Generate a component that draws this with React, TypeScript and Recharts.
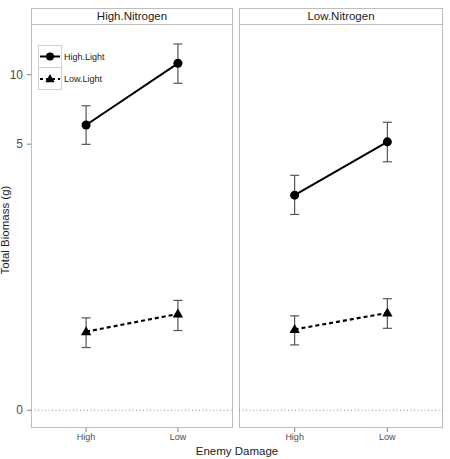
import React from 'react';
import {
  ErrorBar,
  Legend,
  Line,
  LineChart,
  ReferenceLine,
  XAxis,
  YAxis,
} from 'recharts';

// Enemy damage levels on the x axis
const damage = ['High', 'Low'];
const panels = ['High.Nitrogen', 'Low.Nitrogen'];
const lightLevels = ['High.Light', 'Low.Light'];

// Total biomass (g): means with lower / upper interval bounds
const hnHighLight = [6.07, 11.18];
const hnHighLightLo = [4.99, 9.19];
const hnHighLightHi = [7.36, 13.49];
const hnLowLight = [0.49, 0.66];
const hnLowLightLo = [0.36, 0.5];
const hnLowLightHi = [0.62, 0.81];

const lnHighLight = [2.93, 5.12];
const lnHighLightLo = [2.37, 4.17];
const lnHighLightHi = [3.62, 6.24];
const lnLowLight = [0.51, 0.67];
const lnLowLightLo = [0.38, 0.52];
const lnLowLightHi = [0.64, 0.83];

const yTicks = [0, 5, 10];

// biomass axis is drawn on a shifted log scale
const OFFSET = 0.45;
const tf = (v: number) => Math.log(v + OFFSET);
const untf = (v: number) => Math.exp(v) - OFFSET;
const yDomain = [-0.965, 2.8126];

const buildRows = (
  hl: number[], hlLo: number[], hlHi: number[],
  ll: number[], llLo: number[], llHi: number[],
) =>
  damage.map((_, i) => ({
    x: i + 1,
    hl: tf(hl[i]),
    hlErr: [tf(hl[i]) - tf(hlLo[i]), tf(hlHi[i]) - tf(hl[i])],
    ll: tf(ll[i]),
    llErr: [tf(ll[i]) - tf(llLo[i]), tf(llHi[i]) - tf(ll[i])],
  }));

const panelData = [
  buildRows(hnHighLight, hnHighLightLo, hnHighLightHi, hnLowLight, hnLowLightLo, hnLowLightHi),
  buildRows(lnHighLight, lnHighLightLo, lnHighLightHi, lnLowLight, lnLowLightLo, lnLowLightHi),
];

const GRID = '#bdbdbd';
const TEXT = '#4d4d4d';

const renderCircle = (p: any) => (
  <circle key={`c-${p.index}`} cx={p.cx} cy={p.cy} r={4.5} fill="#000" />
);

const trianglePath = (cx: number, cy: number, s = 1) =>
  `M${cx},${cy - 5.5 * s} L${cx + 5.2 * s},${cy + 3.5 * s} L${cx - 5.2 * s},${cy + 3.5 * s} Z`;

const renderTriangle = (p: any) => (
  <path key={`t-${p.index}`} d={trianglePath(p.cx, p.cy)} fill="#000" />
);

const renderLegend = () => (
  <svg width={80} height={46}>
    <rect x={0.5} y={0.5} width={23} height={22} fill="#fff" stroke="#cfcfcf" />
    <rect x={0.5} y={22.5} width={23} height={22} fill="#fff" stroke="#cfcfcf" />
    <line x1={2} y1={11.5} x2={22} y2={11.5} stroke="#000" strokeWidth={2} />
    <circle cx={12} cy={11.5} r={4} fill="#000" />
    <line x1={2} y1={34} x2={22} y2={34} stroke="#000" strokeWidth={2} strokeDasharray="3 3" />
    <path d={trianglePath(12, 34, 0.9)} fill="#000" />
    <text x={26} y={11.5} dy="0.35em" fontSize={9} fill="#222">{lightLevels[0]}</text>
    <text x={26} y={34} dy="0.35em" fontSize={9} fill="#222">{lightLevels[1]}</text>
  </svg>
);

type PanelProps = { index: number; left: number; width: number; showY: boolean };

const Panel = ({ index, left, width, showY }: PanelProps) => {
  const plotLeft = left + (showY ? 31 : 0);
  const plotWidth = width - 1 - (showY ? 31 : 0);
  return (
    <>
      <div
        style={{
          position: 'absolute', left: plotLeft, top: 8, width: plotWidth, height: 17,
          boxSizing: 'border-box', border: `1px solid ${GRID}`, textAlign: 'center',
          fontSize: 11.5, lineHeight: '15px', color: '#222',
        }}
      >
        {panels[index]}
      </div>
      <div
        style={{
          position: 'absolute', left: plotLeft, top: 24, width: plotWidth, height: 404,
          boxSizing: 'border-box', border: `1px solid ${GRID}`,
        }}
      />
      <div style={{ position: 'absolute', left, top: 0 }}>
        <LineChart
          width={width}
          height={459}
          data={panelData[index]}
          margin={{ top: 25, right: 1, left: 0, bottom: 0 }}
        >
          <XAxis
            dataKey="x"
            type="number"
            domain={[0.4, 2.6]}
            ticks={[1, 2]}
            tickFormatter={(v) => damage[v - 1]}
            axisLine={false}
            tickSize={4}
            tickMargin={2}
            height={31}
            tickLine={{ stroke: '#7f7f7f' }}
            tick={{ fontSize: 9, fill: TEXT }}
          />
          <YAxis
            hide={!showY}
            type="number"
            domain={yDomain}
            allowDataOverflow
            ticks={yTicks.map(tf)}
            tickFormatter={(v) => String(Math.round(untf(v)))}
            axisLine={false}
            tickSize={4}
            tickMargin={4}
            width={31}
            tickLine={{ stroke: '#7f7f7f' }}
            tick={{ fontSize: 12, fill: TEXT }}
          />
          <ReferenceLine y={tf(0)} stroke="#8a8a8a" strokeDasharray="1 2.5" />
          {showY && (
            <Legend
              content={renderLegend}
              layout="vertical"
              align="center"
              verticalAlign="middle"
              wrapperStyle={{ position: 'absolute', left: 38, top: 45, width: 80, height: 46 }}
            />
          )}
          <Line
            dataKey="hl"
            stroke="#000"
            strokeWidth={2}
            dot={renderCircle}
            activeDot={false}
            isAnimationActive={false}
          >
            <ErrorBar dataKey="hlErr" width={4.5} stroke="#555" strokeWidth={1.2} />
          </Line>
          <Line
            dataKey="ll"
            stroke="#000"
            strokeWidth={2.2}
            strokeDasharray="4 3"
            dot={renderTriangle}
            activeDot={false}
            isAnimationActive={false}
          >
            <ErrorBar dataKey="llErr" width={4.5} stroke="#555" strokeWidth={1.2} />
          </Line>
        </LineChart>
      </div>
    </>
  );
};

export default function App() {
  return (
    <div
      style={{
        position: 'absolute', left: 0, top: 0, width: 450, height: 459,
        background: '#fff', overflow: 'hidden',
        fontFamily: '"Liberation Sans", Arial, sans-serif',
      }}
    >
      <Panel index={0} left={0} width={234} showY />
      <Panel index={1} left={239} width={205} showY={false} />
      <svg width={450} height={459} style={{ position: 'absolute', left: 0, top: 0, pointerEvents: 'none' }}>
        <text x={237} y={455} textAnchor="middle" fontSize={11.5} fill="#222">
          Enemy Damage
        </text>
        <text
          x={8.5}
          y={230}
          textAnchor="middle"
          fontSize={11.5}
          fill="#222"
          transform="rotate(-90 8.5 230)"
        >
          Total Biomass (g)
        </text>
      </svg>
    </div>
  );
}
